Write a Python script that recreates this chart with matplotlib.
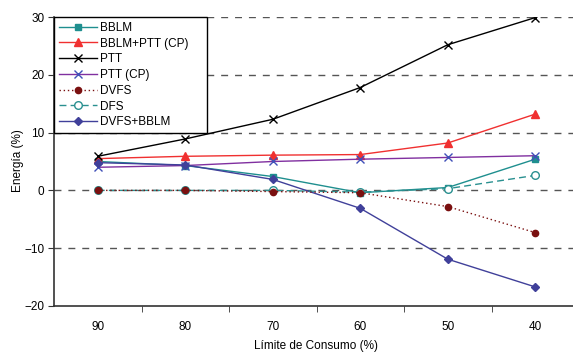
import matplotlib
matplotlib.use("Agg")
import matplotlib.pyplot as plt

plt.rcParams['font.family'] = ['Liberation Sans', 'DejaVu Sans']
plt.rcParams['font.size'] = 8.5

limites = ["90", "80", "70", "60", "50", "40"]

bblm = [5.0, 4.3, 2.4, -0.4, 0.5, 5.4]
bblm_ptt_cp = [5.5, 5.9, 6.1, 6.2, 8.2, 13.2]
ptt = [5.9, 8.9, 12.3, 17.8, 25.2, 29.9]
ptt_cp = [4.0, 4.3, 5.0, 5.4, 5.7, 6.0]
dvfs = [0.0, 0.0, -0.2, -0.4, -2.8, -7.3]
dfs = [0.0, 0.0, 0.0, -0.3, 0.3, 2.6]
dvfs_bblm = [4.8, 4.4, 1.9, -3.1, -11.9, -16.7]

x = range(len(limites))

fig = plt.figure(figsize=(5.73, 3.52), dpi=100)
ax = fig.add_axes([54 / 573, 1 - 306 / 352, 525 / 573, 289 / 352])

for v in [30, 20, 10, 0, -10]:
    ax.axhline(v, color="#555555", lw=1.0, ls=(0, (5, 5)), zorder=0)

ax.plot(x, bblm, color="#1f8f8f", marker="s", ms=5, lw=1, label="BBLM", zorder=3)
ax.plot(x, bblm_ptt_cp, color="#f03030", marker="^", ms=6, lw=1, label="BBLM+PTT (CP)", zorder=3)
ax.plot(x, ptt, color="black", marker="x", ms=6, lw=1, label="PTT", zorder=3)
ax.plot(x, ptt_cp, color="#8030a0", marker="x", ms=6, mec="#4050b8", lw=1, label="PTT (CP)", zorder=3)
ax.plot(x, dvfs, color="#7a1010", marker="o", ms=4.5, lw=1, ls=(0, (1, 2)), label="DVFS", zorder=5)
ax.plot(x, dfs, color="#2a9090", marker="o", ms=5.5, mfc="white", lw=1, ls=(0, (5, 3)), label="DFS", zorder=4)
ax.plot(x, dvfs_bblm, color="#40409a", marker="D", ms=4, lw=1, label="DVFS+BBLM", zorder=3)

ax.set_xlim(-0.5, len(limites) - 0.5)
ax.set_ylim(-20, 30)
ax.set_yticks([30, 20, 10, 0, -10, -20])
ax.set_xticks(list(x))
ax.set_xticklabels(limites)
ax.set_xticks([i + 0.5 for i in x], minor=True)
ax.tick_params(axis="x", which="major", length=0, pad=11)
ax.tick_params(axis="x", which="minor", length=4, direction="out", color="#333333")
ax.tick_params(axis="y", length=4, direction="out", color="#333333", pad=3)

for s in ["top", "right"]:
    ax.spines[s].set_visible(False)
for s in ["left", "bottom"]:
    ax.spines[s].set_color("#333333")
    ax.spines[s].set_linewidth(1.2)

fig.text(18 / 573, 1 - 161 / 352, "Energía (%)", rotation=90, ha="center", va="center")
fig.text(316 / 573, 1 - 346 / 352, "Límite de Consumo (%)", ha="center", va="center")

leg = ax.legend(loc="upper left", bbox_to_anchor=(0, 1, 153 / 525, 0), mode="expand",
                borderaxespad=0, fancybox=False, edgecolor="black", framealpha=1,
                handlelength=3.2, handletextpad=0.3, labelspacing=0.32,
                borderpad=0.4)
leg.get_frame().set_linewidth(1.0)

fig.savefig("out.png", dpi=100)
